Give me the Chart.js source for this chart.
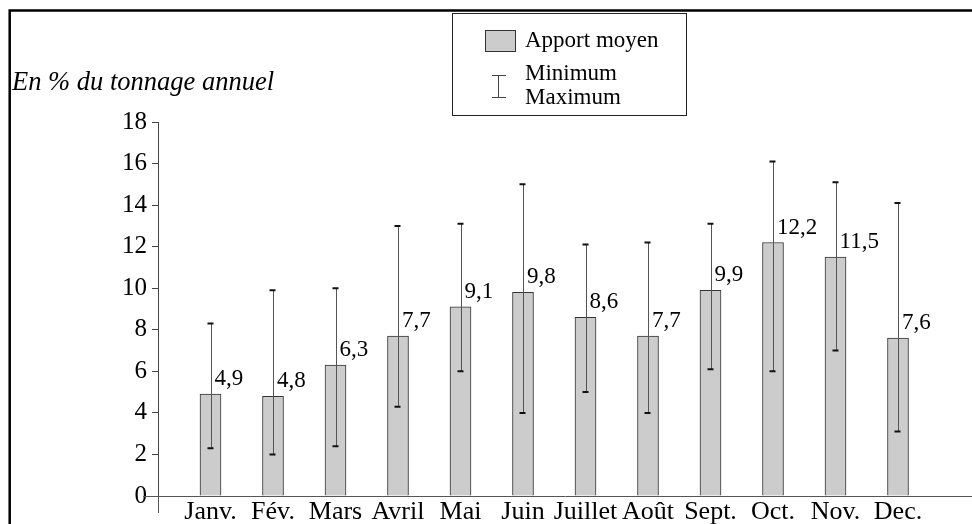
<!DOCTYPE html>
<html>
<head>
<meta charset="utf-8">
<script src="https://cdn.jsdelivr.net/npm/chart.js@4"></script>
<style>
html,body{margin:0;padding:0;background:#fff;}
canvas{display:block;}
</style>
</head>
<body>
<canvas id="c" width="972" height="524"></canvas>
<script>
const months = ['Janv.','Fév.','Mars','Avril','Mai','Juin','Juillet','Août','Sept.','Oct.','Nov.','Dec.'];
const moyen = [4.9,4.8,6.3,7.7,9.1,9.8,8.6,7.7,9.9,12.2,11.5,7.6];
const minimum = [2.3,2.0,2.4,4.3,6.0,4.0,5.0,4.0,6.1,6.0,7.0,3.1];
const maximum = [8.3,9.9,10.0,13.0,13.1,15.0,12.1,12.2,13.1,16.1,15.1,14.1];
const yTicks = [0,2,4,6,8,10,12,14,16,18];
const titleText = 'En % du tonnage annuel';
const legendMean = 'Apport moyen';
const legendRange = ['Minimum','Maximum'];

const SERIF = '"Liberation Serif", "DejaVu Serif", serif';

const drawPlugin = {
  id: 'extras',
  afterDatasetsDraw(chart) {
    const ctx = chart.ctx;
    const xs = chart.scales.x, ys = chart.scales.y;
    ctx.save();
    // error bars
    for (let i = 0; i < months.length; i++) {
      const x = Math.round(xs.getPixelForValue(i)) + 0.5;
      const yTop = ys.getPixelForValue(maximum[i]);
      const yBot = ys.getPixelForValue(minimum[i]);
      ctx.strokeStyle = '#555';
      ctx.lineWidth = 1;
      ctx.beginPath();
      ctx.moveTo(x, yTop);
      ctx.lineTo(x, yBot);
      ctx.stroke();
      ctx.strokeStyle = '#111';
      ctx.lineWidth = 2;
      ctx.beginPath();
      ctx.moveTo(x - 4, yTop); ctx.lineTo(x + 2, yTop);
      ctx.moveTo(x - 4, yBot); ctx.lineTo(x + 2, yBot);
      ctx.stroke();
    }
    // value labels
    ctx.fillStyle = '#000';
    ctx.font = '23px ' + SERIF;
    ctx.textAlign = 'left';
    ctx.textBaseline = 'alphabetic';
    for (let i = 0; i < months.length; i++) {
      const x = xs.getPixelForValue(i) + 4;
      const y = ys.getPixelForValue(moyen[i]) - 9;
      ctx.fillText(String(moyen[i]).replace('.', ','), x, y);
    }
    ctx.restore();
  },
  afterDraw(chart) {
    const ctx = chart.ctx;
    const ca = chart.chartArea;
    ctx.save();
    // axis extensions
    ctx.strokeStyle = '#555';
    ctx.lineWidth = 1;
    ctx.beginPath();
    ctx.moveTo(ca.left - 15, ca.bottom + 0.5);
    ctx.lineTo(ca.left, ca.bottom + 0.5);
    ctx.moveTo(ca.left + 0.5, ca.bottom);
    ctx.lineTo(ca.left + 0.5, ca.bottom + 17);
    ctx.stroke();
    // frame (top and left)
    ctx.strokeStyle = '#000';
    ctx.lineWidth = 2.5;
    ctx.beginPath();
    ctx.moveTo(9.7, 524);
    ctx.lineTo(9.7, 10.5);
    ctx.lineTo(972, 10.5);
    ctx.stroke();
    // title
    ctx.fillStyle = '#000';
    ctx.font = 'italic 26.5px ' + SERIF;
    ctx.textAlign = 'left';
    ctx.textBaseline = 'middle';
    ctx.fillText(titleText, 12, 83);
    // legend box
    ctx.strokeStyle = '#222';
    ctx.lineWidth = 1;
    ctx.strokeRect(452.5, 13.5, 234, 102);
    ctx.fillStyle = '#cccccc';
    ctx.fillRect(485.5, 30.5, 30, 21);
    ctx.strokeStyle = '#333';
    ctx.strokeRect(485.5, 30.5, 30, 21);
    ctx.strokeStyle = '#444';
    ctx.beginPath();
    ctx.moveTo(498.5, 75); ctx.lineTo(498.5, 98);
    ctx.moveTo(492, 75.5); ctx.lineTo(506, 75.5);
    ctx.moveTo(492, 97.5); ctx.lineTo(506, 97.5);
    ctx.stroke();
    ctx.fillStyle = '#000';
    ctx.font = '23px ' + SERIF;
    ctx.fillText(legendMean, 525, 41);
    ctx.fillText(legendRange[0], 525, 74);
    ctx.fillText(legendRange[1], 525, 98);
    ctx.restore();
  }
};

Chart.defaults.color = '#000';

new Chart(document.getElementById('c'), {
  type: 'bar',
  data: {
    datasets: [{
      label: legendMean,
      data: moyen.map((v, i) => ({x: i, y: v})),
      backgroundColor: '#cccccc',
      borderColor: '#333',
      borderWidth: 1,
      barThickness: 21
    }]
  },
  options: {
    responsive: false,
    animation: false,
    layout: { padding: { top: 122, left: 0, right: 0, bottom: 0 } },
    plugins: { legend: { display: false }, tooltip: { enabled: false }, title: { display: false } },
    scales: {
      x: {
        type: 'linear',
        offset: false,
        min: -0.84,
        max: 12.184,
        afterBuildTicks: (s) => { s.ticks = months.map((_, i) => ({ value: i })); },
        afterFit: (s) => { s.height = 28; },
        ticks: {
          autoSkip: false,
          maxRotation: 0,
          padding: 1,
          font: { family: SERIF, size: 26 },
          color: '#000',
          callback: (v) => months[v]
        },
        grid: { display: false, drawTicks: false, offset: false },
        border: { display: true, color: '#555', width: 1 }
      },
      y: {
        min: 0,
        max: 18,
        afterBuildTicks: (s) => { s.ticks = yTicks.map(v => ({ value: v })); },
        afterFit: (s) => { s.width = 158; },
        ticks: {
          padding: 5,
          font: { family: SERIF, size: 25 },
          color: '#000'
        },
        grid: { drawOnChartArea: false, drawTicks: true, tickLength: 6, color: '#444' },
        border: { display: true, color: '#444', width: 1 }
      }
    }
  },
  plugins: [drawPlugin]
});
</script>
</body>
</html>
